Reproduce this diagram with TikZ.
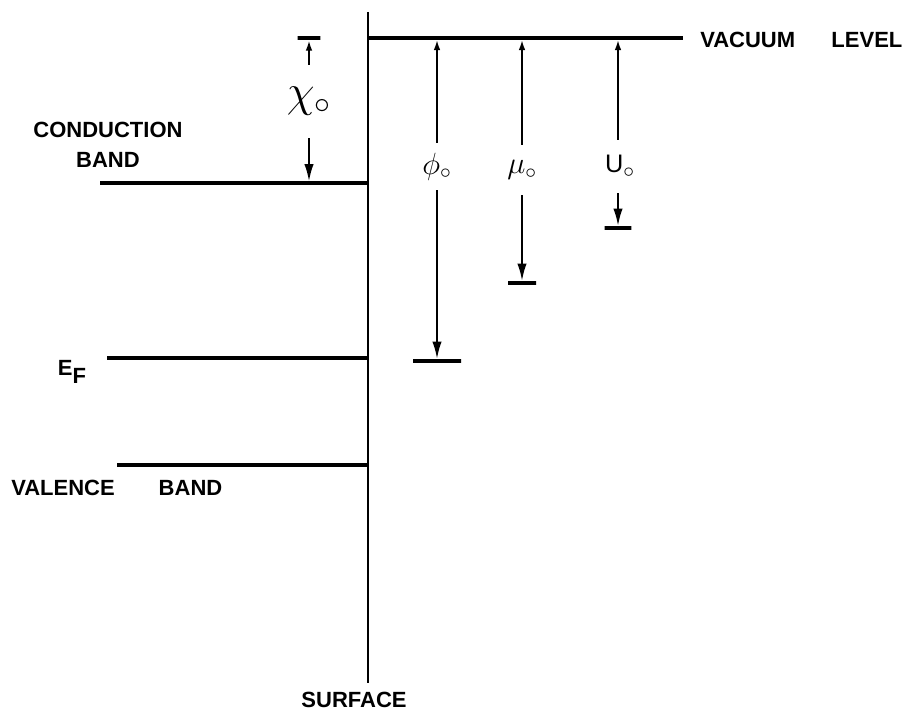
\documentclass[tikz,border=0pt]{standalone}
\usepackage{fix-cm}
\usepackage{fontspec}
\newfontfamily\lettering{Liberation Sans}
\usetikzlibrary{arrows.meta}
\tikzset{
  level/.style={line width=2.4pt},
  surf/.style={line width=1.8pt},
  tbar/.style={draw, line width=3pt, minimum height=0pt, inner sep=0pt},
  upa/.style={-{Latex[length=8pt,width=5pt]}, line width=1.6pt},
  dna/.style={-{Latex[length=13pt,width=7pt]}, line width=1.6pt},
  word/.style={font=\lettering\bfseries\fontsize{16.5}{22.5}\selectfont, inner sep=0pt},
  sym/.style={inner sep=0pt, minimum height=#1, font=\fontsize{23}{25}\selectfont},
}

\begin{document}
\begin{tikzpicture}[x=0.75pt,y=-0.75pt]
\useasboundingbox (0,0) rectangle (924,713);
% surface and levels
\coordinate (stop) at (368,12);
\coordinate (sbot) at (368,683);
\draw[surf] (stop) -- (sbot);
\node[word] (surflbl) at (354,700) {SURFACE};
\coordinate (vacL) at (368,38); \coordinate (vacR) at (683,38);
\draw[level] (vacL) -- (vacR);
\node[word, anchor=west] (vaclbl) at (700,40) {VACUUM\hspace{1.65em}LEVEL};
\coordinate (cbL) at (100,183); \coordinate (cbR) at (368,183);
\draw[level] (cbL) -- (cbR);
\node[word, align=center] (cblbl) at (108,145) {CONDUCTION\\BAND};
\coordinate (efL) at (107,358); \coordinate (efR) at (368,358);
\draw[level] (efL) -- (efR);
\node[word] (eflbl) at (72,372) {E\raisebox{-0.35em}{F}};
\coordinate (vbL) at (117,465); \coordinate (vbR) at (368,465);
\draw[level] (vbL) -- (vbR);
\node[word, anchor=west] (vblbl) at (11,488) {VALENCE\hspace{2em}BAND};
% electron affinity
\node[tbar, minimum width=17pt] (chibar) at (309,38) {};
\node[sym=54.75pt, font=\fontsize{34}{36}\selectfont] (chi) at (309,101.5) {$\chi_\circ$};
\coordinate (chicb) at (309,181.5);
\draw[upa] (chi) -- (chibar);
\draw[dna] (chi) -- (chicb);
% work function, chemical potential, U
\node[sym=35.25pt] (phi) at (437,166.5) {$\phi_\circ$};
\coordinate (phivac) at (437,39.5);
\node[tbar, minimum width=36pt] (phibar) at (437,361) {};
\draw[upa] (phi) -- (phivac);
\draw[dna] (phi) -- (phibar);
\node[sym=37.5pt] (mu) at (522,170) {$\mu_\circ$};
\coordinate (muvac) at (522,39.5);
\node[tbar, minimum width=21pt] (mubar) at (522,283) {};
\draw[upa] (mu) -- (muvac);
\draw[dna] (mu) -- (mubar);
\node[sym=39.75pt] (u) at (620,166.5) {{\lettering\fontsize{19}{22}\selectfont U}$_\circ$};
\coordinate (uvac) at (618,39.5);
\node[tbar, minimum width=20pt] (ubar) at (618,228) {};
\draw[upa] (u.north -| uvac) -- (uvac);
\draw[dna] (u.south -| ubar) -- (ubar);
\end{tikzpicture}
\end{document}
